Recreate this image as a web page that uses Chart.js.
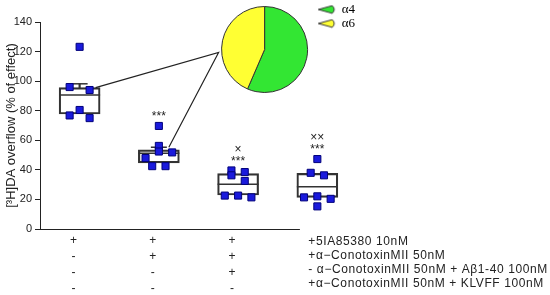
<!DOCTYPE html>
<html>
<head>
<meta charset="utf-8">
<script src="https://cdn.jsdelivr.net/npm/chart.js@4"></script>
<style>
  html, body { margin: 0; padding: 0; background: #fff; }
  #wrap { position: relative; width: 550px; height: 295px; }
  #main { position: absolute; left: 0; top: 0; }
  #pie { position: absolute; left: 212px; top: 2px; }
</style>
</head>
<body>
<div id="wrap">
  <canvas id="main" width="550" height="295"></canvas>
  <canvas id="pie" width="153" height="95"></canvas>
</div>
<script>
// groups on the x axis
const groups = [1, 2, 3, 4];

// box statistics, % of effect
const q1 = [77.8, 44.7, 23.0, 21.4];
const median = [90.7, 51.3, 30.3, 28.5];
const q3 = [95.6, 53.5, 37.4, 37.6];
const capTop = [98.2, 55.3, null, null];

// single experiments per group
const pointValues = [
  [123.2, 96.0, 94.0, 80.5, 76.8, 75.0],
  [69.7, 56.2, 52.4, 51.8, 48.0, 42.5, 42.5],
  [39.6, 36.3, 38.5, 32.5, 22.6, 22.6, 21.4],
  [47.3, 38.0, 36.3, 21.4, 22.1, 20.4, 15.3],
];
// horizontal jitter slot of each point (column in the dot cluster)
const pointSlots = [
  [0, -3, 3, 0, -3, 3],
  [0, 0, 0, 4, -4, -2, 2],
  [-2, -2, 2, 2, -4, 0, 4],
  [0, -2, 2, -4, 0, 4, 0],
];

// significance marks
const stars = ['', '***', '***', '***'];
const crosses = ['', '', '×', '××'];

// treatment table under the x axis
const signs = [
  ['+', '-', '-', '-'],
  ['+', '+', '-', '-'],
  ['+', '+', '+', '-'],
];
const rowTexts = [
  '+5IA85380 10nM',
  '+α−ConotoxinMII 50nM',
  '- α−ConotoxinMII 50nM + Aβ1-40 100nM',
  '+α−ConotoxinMII 50nM + KLVFF 100nM',
];

// inset pie
const subunits = ['α4', 'α6'];
const subunitShare = [56.5, 43.5];

const yMin = 0, yMax = 140, yStep = 20;
const xMin = 0.5, xMax = 4.45, xAxisEnd = 3.78;

const slotWidth = 0.042;
const ink = '#222';
const sans = "'Liberation Sans', Arial, sans-serif";
const pieColors = ['#33e633', '#ffff33'];

Chart.defaults.font.family = sans;
Chart.defaults.color = ink;

// small pie-wedge icon for the legend
function wedgeIcon(color) {
  const c = document.createElement('canvas');
  c.width = 19;
  c.height = 10;
  const g = c.getContext('2d');
  g.beginPath();
  g.moveTo(1, 5);
  g.lineTo(15, 1.2);
  g.quadraticCurveTo(19, 5, 15, 8.8);
  g.closePath();
  g.fillStyle = color;
  g.fill();
  g.lineWidth = 1;
  g.strokeStyle = '#333';
  g.stroke();
  return c;
}

const pieCanvas = document.getElementById('pie');
const pieChart = new Chart(pieCanvas, {
  type: 'pie',
  data: {
    labels: subunits,
    datasets: [{
      data: subunitShare,
      backgroundColor: pieColors,
      borderColor: '#333',
      borderWidth: 1,
    }],
  },
  options: {
    responsive: false,
    animation: false,
    events: [],
    radius: 43,
    plugins: {
      tooltip: { enabled: false },
      legend: {
        position: 'right',
        align: 'start',
        labels: {
          usePointStyle: true,
          pointStyleWidth: 17,
          boxHeight: 9,
          padding: 1,
          color: ink,
          font: { family: "'Liberation Serif', 'DejaVu Serif', serif", size: 13 },
          generateLabels: () => subunits.map((s, i) => ({
            text: s,
            pointStyle: wedgeIcon(pieColors[i]),
            fillStyle: pieColors[i],
            strokeStyle: '#333',
            lineWidth: 1,
            hidden: false,
            index: i,
            datasetIndex: 0,
          })),
        },
      },
    },
  },
});

const boxData = groups.map((g, i) => ({ x: g, y: [q1[i], q3[i]] }));
const medianData = groups.map((g, i) => ({ x: g, y: median[i] }));
const capData = groups
  .map((g, i) => (capTop[i] === null ? null : { x: g, y: capTop[i] }))
  .filter(Boolean);
const stemData = groups
  .map((g, i) => (capTop[i] === null ? null : { x: g, y: [q3[i], capTop[i]] }))
  .filter(Boolean);
const dotData = pointValues.flatMap((vals, i) =>
  vals.map((v, j) => ({ x: groups[i] + pointSlots[i][j] * slotWidth, y: v }))
);

// short x axis line, stars, crosses, connectors to the inset and the table text
const extras = {
  id: 'extras',
  beforeDatasetsDraw(chart) {
    const { ctx, chartArea, scales: { x } } = chart;
    ctx.save();
    ctx.strokeStyle = ink;
    ctx.lineWidth = 1;
    ctx.beginPath();
    ctx.moveTo(chartArea.left, chartArea.bottom + 0.5);
    ctx.lineTo(x.getPixelForValue(xAxisEnd), chartArea.bottom + 0.5);
    ctx.stroke();
    ctx.restore();
  },
  afterDatasetsDraw(chart) {
    const { ctx, scales: { x, y } } = chart;
    ctx.save();

    // connectors to the pie
    const arc = pieChart.getDatasetMeta(0).data[0];
    const px = pieCanvas.offsetLeft + arc.x - arc.outerRadius - 3;
    const py = pieCanvas.offsetTop + arc.y + 3;
    ctx.strokeStyle = ink;
    ctx.lineWidth = 1.2;
    ctx.beginPath();
    ctx.moveTo(x.getPixelForValue(groups[0]) + 16, y.getPixelForValue(q3[0]));
    ctx.lineTo(px, py);
    ctx.lineTo(x.getPixelForValue(groups[1]) + 10, y.getPixelForValue(capTop[1]));
    ctx.stroke();

    // significance marks
    ctx.fillStyle = ink;
    ctx.textAlign = 'center';
    ctx.textBaseline = 'middle';
    ctx.font = '12px ' + sans;
    groups.forEach((g, i) => {
      const top = y.getPixelForValue(Math.max(...pointValues[i]));
      const cx = x.getPixelForValue(g);
      if (stars[i]) ctx.fillText(stars[i], cx, top - 9);
      if (crosses[i]) ctx.fillText(crosses[i], cx, top - 21);
    });

    // last column of the table, with treatment names
    ctx.textAlign = 'left';
    if ('letterSpacing' in ctx) ctx.letterSpacing = '0.6px';
    const tx = x.getPixelForValue(groups[3]) - 9;
    rowTexts.forEach((t, i) => {
      ctx.fillText(t, tx, chart.chartArea.bottom + 13 + i * 13.8);
    });
    ctx.restore();
  },
};

new Chart(document.getElementById('main'), {
  type: 'scatter',
  data: {
    datasets: [
      {
        type: 'scatter',
        data: dotData,
        pointStyle: 'rect',
        pointRadius: 5,
        backgroundColor: '#1a1adc',
        borderColor: '#00007a',
        borderWidth: 1,
        order: 0,
        clip: false,
      },
      {
        type: 'scatter',
        data: medianData,
        pointStyle: 'line',
        pointRadius: 20.5,
        borderColor: '#333',
        borderWidth: 1.5,
        order: 1,
        clip: false,
      },
      {
        type: 'scatter',
        data: capData,
        pointStyle: 'line',
        pointRadius: 8,
        borderColor: '#333',
        borderWidth: 1.5,
        order: 1,
        clip: false,
      },
      {
        type: 'bar',
        data: stemData,
        barThickness: 1.5,
        backgroundColor: '#333',
        borderWidth: 0,
        grouped: false,
        order: 2,
        clip: false,
      },
      {
        type: 'bar',
        data: boxData,
        barThickness: 41,
        backgroundColor: 'rgba(255,255,255,0)',
        borderColor: '#333',
        borderWidth: 1.5,
        borderSkipped: false,
        grouped: false,
        order: 3,
        clip: false,
      },
    ],
  },
  options: {
    responsive: false,
    animation: false,
    events: [],
    layout: { padding: { top: 18, right: 197, left: 0, bottom: 0 } },
    plugins: {
      legend: { display: false },
      tooltip: { enabled: false },
    },
    scales: {
      x: {
        type: 'linear',
        min: xMin,
        max: xMax,
        offset: false,
        afterBuildTicks: (s) => {
          s.ticks = groups.slice(0, 3).map((v) => ({ value: v }));
        },
        afterFit: (s) => {
          s.height = 66;
        },
        grid: { display: false, drawTicks: false },
        border: { display: false },
        ticks: {
          autoSkip: false,
          maxRotation: 0,
          padding: 4,
          labelOffset: -6,
          color: ink,
          font: { size: 12, lineHeight: '16px' },
          callback: (v) => signs[v - 1],
        },
      },
      y: {
        type: 'linear',
        min: yMin,
        max: yMax,
        afterFit: (s) => {
          s.width = 40;
        },
        ticks: { stepSize: yStep, padding: 3, color: ink, font: { size: 11 } },
        grid: { drawOnChartArea: false, drawTicks: true, tickLength: 5, color: ink },
        border: { display: true, color: ink, width: 1 },
        title: {
          display: true,
          text: '[³H]DA overflow (% of effect)',
          color: ink,
          font: { size: 13 },
          padding: { top: 4, bottom: 0 },
        },
      },
    },
  },
  plugins: [extras],
});
</script>
</body>
</html>
